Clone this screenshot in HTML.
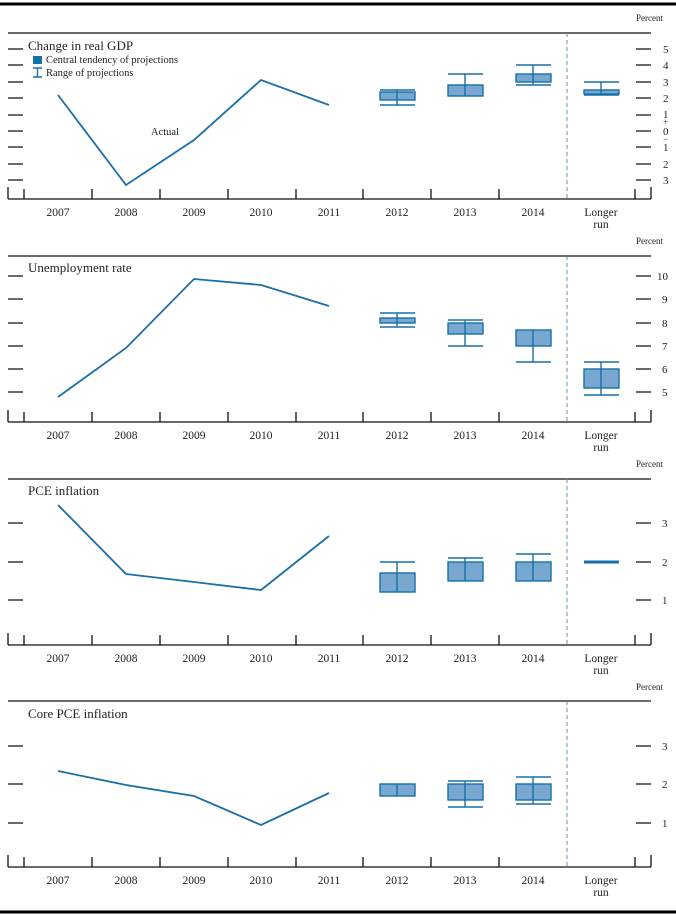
<!DOCTYPE html>
<html><head><meta charset="utf-8"><style>
html,body{margin:0;padding:0;background:#fff}
svg{display:block}
text{font-family:"Liberation Serif",serif;fill:#222}
.ax{stroke:#111;stroke-width:1.3;fill:none}
.tk{stroke:#111;stroke-width:1.3}
.dash{stroke:#6a8ca8;stroke-width:1;stroke-dasharray:4,3}
.ln{stroke:#1a6fa6;stroke-width:1.8;fill:none}
.bx{fill:#78a8cf;stroke:#1670a8;stroke-width:1.4}
.rg{stroke:#1670a8;stroke-width:1.4;fill:none}
.yr{font-size:11.5px;text-anchor:middle}
.pl{font-size:9px}
.yl{font-size:11px}
.tt{font-size:13px}
</style></head><body>
<svg width="676" height="915" viewBox="0 0 676 915" xmlns="http://www.w3.org/2000/svg">
<line x1="0" y1="4" x2="676" y2="4" stroke="#000" stroke-width="3"/>
<line x1="0" y1="912" x2="676" y2="912" stroke="#000" stroke-width="3"/>

<!-- Panel 1 -->
<text x="636" y="21" class="pl">Percent</text>
<line class="ax" x1="8" y1="33" x2="651" y2="33"/>
<line class="ax" x1="8" y1="199" x2="651" y2="199"/>
<path class="tk" d="M8 187V199M24 189V199M92 189V199M160 189V199M228 189V199M296 189V199M363 189V199M431 189V199M499 189V199M635 189V199M651 187V199"/>
<line class="dash" x1="567" y1="33" x2="567" y2="199"/>
<path class="tk" d="M8 49H23M8 65H23M8 82H23M8 98H23M8 115H23M8 131H23M8 147H23M8 164H23M8 180H23M636 49H651M636 65H651M636 82H651M636 98H651M636 115H651M636 131H651M636 147H651M636 164H651M636 180H651"/>
<g class="yl"><text x="663" y="53">5</text><text x="663" y="69">4</text><text x="663" y="86">3</text><text x="663" y="102">2</text><text x="663" y="118">1</text><text x="663" y="125" style="font-size:9px">+</text><text x="663" y="135">0</text><text x="663" y="142" style="font-size:9px">−</text><text x="663" y="151">1</text><text x="663" y="168">2</text><text x="663" y="184">3</text></g>
<text x="28" y="50" class="tt">Change in real GDP</text>
<rect x="33" y="56" width="9" height="8" fill="#1670a8"/>
<text x="46" y="63" class="pl" style="font-size:10.5px">Central tendency of projections</text>
<path class="rg" d="M33 68H42M37.5 68V77M33 77H42"/>
<text x="46" y="76" class="pl" style="font-size:10.5px">Range of projections</text>
<text x="151" y="135" class="pl" style="font-size:10.5px">Actual</text>
<polyline class="ln" points="58,95 126,185 194,140 261,80 329,105"/>
<path class="rg" d="M380 90H415M380 105H415M397 90V105"/><rect class="bx" x="380" y="92" width="35" height="8"/><line class="rg" x1="397" y1="92" x2="397" y2="100"/>
<path class="rg" d="M448 74H483M465 74V85"/><rect class="bx" x="448" y="85" width="35" height="11"/><line class="rg" x1="465" y1="85" x2="465" y2="96"/>
<path class="rg" d="M516 65H551M533 65V74M516 85H551M533 82V85"/><rect class="bx" x="516" y="74" width="35" height="8"/><line class="rg" x1="533" y1="74" x2="533" y2="82"/>
<path class="rg" d="M584 82H619M601 82V90M584 95H619"/><rect class="bx" x="584" y="90" width="35" height="4"/><line class="rg" x1="601" y1="90" x2="601" y2="95"/>
<g class="yr"><text x="58" y="216">2007</text><text x="126" y="216">2008</text><text x="194" y="216">2009</text><text x="261" y="216">2010</text><text x="329" y="216">2011</text><text x="397" y="216">2012</text><text x="465" y="216">2013</text><text x="533" y="216">2014</text><text x="601" y="216">Longer</text><text x="601" y="228">run</text></g>

<!-- Panel 2 -->
<text x="636" y="244" class="pl">Percent</text>
<line class="ax" x1="8" y1="256" x2="651" y2="256"/>
<line class="ax" x1="8" y1="422" x2="651" y2="422"/>
<path class="tk" d="M8 410V422M24 412V422M92 412V422M160 412V422M228 412V422M296 412V422M363 412V422M431 412V422M499 412V422M635 412V422M651 410V422"/>
<line class="dash" x1="567" y1="256" x2="567" y2="422"/>
<path class="tk" d="M8 276H23M8 299H23M8 323H23M8 346H23M8 369H23M8 392H23M636 276H651M636 299H651M636 323H651M636 346H651M636 369H651M636 392H651"/>
<g class="yl"><text x="657" y="280">10</text><text x="662" y="303">9</text><text x="662" y="327">8</text><text x="662" y="350">7</text><text x="662" y="373">6</text><text x="662" y="396">5</text></g>
<text x="28" y="272" class="tt">Unemployment rate</text>
<polyline class="ln" points="58,397 126,348 194,279 261,285 329,306"/>
<path class="rg" d="M380 313H415M380 327H415M397 313V327"/><rect class="bx" x="380" y="318" width="35" height="5"/><line class="rg" x1="397" y1="318" x2="397" y2="323"/>
<path class="rg" d="M448 320H483M448 346H483M465 334V346"/><rect class="bx" x="448" y="323" width="35" height="11"/><line class="rg" x1="465" y1="320" x2="465" y2="334"/>
<path class="rg" d="M516 362H551M533 346V362"/><rect class="bx" x="516" y="330" width="35" height="16"/><line class="rg" x1="533" y1="330" x2="533" y2="346"/>
<path class="rg" d="M584 362H619M584 395H619M601 362V395"/><rect class="bx" x="584" y="369" width="35" height="19"/><line class="rg" x1="601" y1="369" x2="601" y2="388"/>
<g class="yr"><text x="58" y="439">2007</text><text x="126" y="439">2008</text><text x="194" y="439">2009</text><text x="261" y="439">2010</text><text x="329" y="439">2011</text><text x="397" y="439">2012</text><text x="465" y="439">2013</text><text x="533" y="439">2014</text><text x="601" y="439">Longer</text><text x="601" y="451">run</text></g>

<!-- Panel 3 -->
<text x="636" y="467" class="pl">Percent</text>
<line class="ax" x1="8" y1="479" x2="651" y2="479"/>
<line class="ax" x1="8" y1="645" x2="651" y2="645"/>
<path class="tk" d="M8 633V645M24 635V645M92 635V645M160 635V645M228 635V645M296 635V645M363 635V645M431 635V645M499 635V645M635 635V645M651 633V645"/>
<line class="dash" x1="567" y1="479" x2="567" y2="645"/>
<path class="tk" d="M8 523H23M8 562H23M8 600H23M636 523H651M636 562H651M636 600H651"/>
<g class="yl"><text x="662" y="527">3</text><text x="662" y="566">2</text><text x="662" y="604">1</text></g>
<text x="28" y="495" class="tt">PCE inflation</text>
<polyline class="ln" points="58,505 126,574 194,582 261,590 329,536"/>
<path class="rg" d="M380 562H415M397 562V573"/><rect class="bx" x="380" y="573" width="35" height="19"/><line class="rg" x1="397" y1="573" x2="397" y2="592"/>
<path class="rg" d="M448 558H483M465 558V562"/><rect class="bx" x="448" y="562" width="35" height="19"/><line class="rg" x1="465" y1="562" x2="465" y2="581"/>
<path class="rg" d="M516 554H551M533 554V562"/><rect class="bx" x="516" y="562" width="35" height="19"/><line class="rg" x1="533" y1="562" x2="533" y2="581"/>
<line x1="584" y1="562" x2="619" y2="562" stroke="#1670a8" stroke-width="3"/>
<g class="yr"><text x="58" y="662">2007</text><text x="126" y="662">2008</text><text x="194" y="662">2009</text><text x="261" y="662">2010</text><text x="329" y="662">2011</text><text x="397" y="662">2012</text><text x="465" y="662">2013</text><text x="533" y="662">2014</text><text x="601" y="662">Longer</text><text x="601" y="674">run</text></g>

<!-- Panel 4 -->
<text x="636" y="690" class="pl">Percent</text>
<line class="ax" x1="8" y1="701" x2="651" y2="701"/>
<line class="ax" x1="8" y1="867" x2="651" y2="867"/>
<path class="tk" d="M8 855V867M24 857V867M92 857V867M160 857V867M228 857V867M296 857V867M363 857V867M431 857V867M499 857V867M635 857V867M651 855V867"/>
<line class="dash" x1="567" y1="701" x2="567" y2="867"/>
<path class="tk" d="M8 746H23M8 784H23M8 823H23M636 746H651M636 784H651M636 823H651"/>
<g class="yl"><text x="662" y="750">3</text><text x="662" y="788">2</text><text x="662" y="827">1</text></g>
<text x="28" y="718" class="tt">Core PCE inflation</text>
<polyline class="ln" points="58,771 126,785 194,796 261,825 329,793"/>
<rect class="bx" x="380" y="784" width="35" height="12"/><line class="rg" x1="397" y1="784" x2="397" y2="796"/>
<path class="rg" d="M448 781H483M448 807H483M465 781V807"/><rect class="bx" x="448" y="784" width="35" height="16"/><line class="rg" x1="465" y1="784" x2="465" y2="800"/>
<path class="rg" d="M516 777H551M516 804H551M533 777V804"/><rect class="bx" x="516" y="784" width="35" height="16"/><line class="rg" x1="533" y1="784" x2="533" y2="800"/>
<g class="yr"><text x="58" y="884">2007</text><text x="126" y="884">2008</text><text x="194" y="884">2009</text><text x="261" y="884">2010</text><text x="329" y="884">2011</text><text x="397" y="884">2012</text><text x="465" y="884">2013</text><text x="533" y="884">2014</text><text x="601" y="884">Longer</text><text x="601" y="896">run</text></g>
</svg>
</body></html>
